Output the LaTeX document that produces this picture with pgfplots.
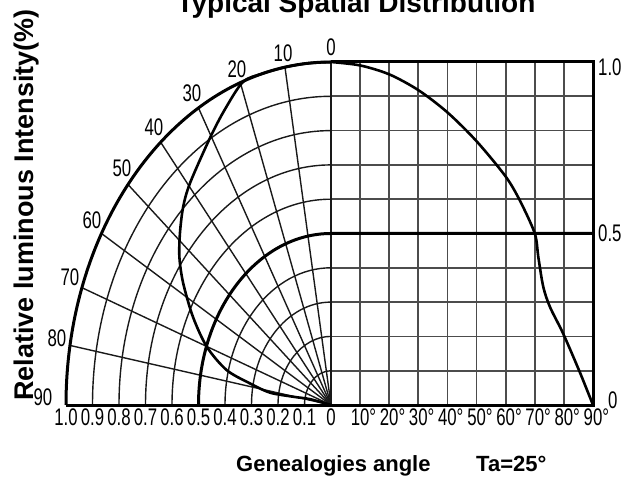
\documentclass[border=0pt]{standalone}
\usepackage{fontspec}
\setmainfont{Liberation Sans}
\newfontfamily\narrow[FakeStretch=0.7]{Liberation Sans}
\usepackage{pgfplots}
\pgfplotsset{compat=1.18}
\usepackage{pgfplotstable}

% relative intensity vs angle (right half)
\pgfplotstableread{
a r
0 1.000
10 0.990
20 0.964
30 0.918
40 0.853
50 0.769
60 0.666
65 0.594
70 0.500
71.2 0.432
72.9 0.345
75.2 0.286
79.7 0.209
85.4 0.097
90 0.000
}\rightcurve

% polar radiation pattern (left half), cartesian, radius units
\pgfplotstableread{
x y
0 1
-0.0872 0.9962
-0.1736 0.9848
-0.2588 0.9659
-0.332 0.942
-0.401 0.861
-0.457 0.778
-0.532 0.647
-0.558 0.577
-0.570 0.501
-0.572 0.43
-0.558 0.356
-0.521 0.257
-0.468 0.169
-0.394 0.102
-0.306 0.063
-0.230 0.036
-0.142 0.024
-0.079 0.017
0 0
}\polarcurve

\tikzset{
  pgrid/.style={black!90, line width=1.4pt},
  rgrid/.style={black!70, line width=1.7pt},
  heavy/.style={black, line width=3pt},
  lab/.style={font=\narrow\fontsize{24}{24}\selectfont, inner sep=0pt},
}

\begin{document}
\begin{tikzpicture}
\useasboundingbox (0,0) rectangle (632pt,480pt);
\begin{axis}[
  at={(66pt,75pt)}, anchor=south west,
  x=265pt, y=343pt,
  xmin=-1, xmax=0.9887, ymin=0, ymax=1,
  axis lines=none, clip=false,
]
% polar grid arcs
\pgfplotsinvokeforeach{0.1,0.2,0.3,0.4,0.6,0.7,0.8,0.9}{
  \draw[pgrid] (axis cs:0,#1) arc[start angle=90,end angle=180,x radius=#1*265pt,y radius=#1*343pt];
}
% radial lines
\draw[pgrid] (axis cs:0,0) -- (axis cs:-0.17365,0.98481);
\draw[pgrid] (axis cs:0,0) -- (axis cs:-0.34202,0.93969);
\draw[pgrid] (axis cs:0,0) -- (axis cs:-0.5,0.86603);
\draw[pgrid] (axis cs:0,0) -- (axis cs:-0.64279,0.76604);
\draw[pgrid] (axis cs:0,0) -- (axis cs:-0.76604,0.64279);
\draw[pgrid] (axis cs:0,0) -- (axis cs:-0.86603,0.5);
\draw[pgrid] (axis cs:0,0) -- (axis cs:-0.93969,0.34202);
\draw[pgrid] (axis cs:0,0) -- (axis cs:-0.98481,0.17365);
% right grid
\pgfplotsinvokeforeach{0.10986,0.21971,0.32957,0.43942,0.54928,0.65913,0.76899,0.87884}{
  \draw[rgrid] (axis cs:#1,0) -- (axis cs:#1,1);
}
\pgfplotsinvokeforeach{0.1,0.2,0.3,0.4,0.6,0.7,0.8,0.9}{
  \draw[rgrid] (axis cs:0,#1) -- (axis cs:0.9887,#1);
}
\draw[pgrid] (axis cs:0,0) -- (axis cs:0,1);
% heavy frame
\draw[heavy] (axis cs:0,1) arc[start angle=90,end angle=180,x radius=265pt,y radius=343pt];
\draw[heavy] (axis cs:-0.5,0) arc[start angle=180,end angle=90,x radius=132.5pt,y radius=171.5pt] -- (axis cs:0.9887,0.5);
\draw[heavy] (axis cs:-1,0) -- (axis cs:0.9887,0) -- (axis cs:0.9887,1) -- (axis cs:0,1);
% curves
\addplot[black, line width=2.6pt, smooth] table[x expr=\thisrow{a}*0.010986, y=r] {\rightcurve};
\addplot[black, line width=2.6pt, smooth] table[x=x, y=y] {\polarcurve};
\end{axis}

% angle labels
\node[lab] at (331pt,433pt) {0};
\node[lab] at (283pt,427pt) {10};
\node[lab] at (237pt,411pt) {20};
\node[lab] at (192pt,387pt) {30};
\node[lab] at (154pt,353pt) {40};
\node[lab] at (122pt,312pt) {50};
\node[lab] at (92pt,260pt) {60};
\node[lab] at (70pt,203pt) {70};
\node[lab] at (57pt,142pt) {80};
\node[lab] at (43pt,83pt) {90};
% bottom labels
\foreach \xx/\tt in {66/1.0, 92.5/0.9, 119/0.8, 145.5/0.7, 172/0.6, 198.5/0.5, 225/0.4, 251.5/0.3, 278/0.2, 304.5/0.1, 331/0}
  \node[lab] at (\xx pt,63pt) {\tt};
\foreach \xx/\tt in {360.1/10, 389.2/20, 418.3/30, 447.4/40, 476.6/50, 505.7/60, 534.8/70, 563.9/80, 593/90}
  \node[lab] at (\xx pt,63pt) {\tt\rlap{°}};
% right labels
\node[lab, anchor=west] at (598pt,413pt) {1.0};
\node[lab, anchor=west] at (598pt,247pt) {0.5};
\node[lab, anchor=west] at (608pt,80pt) {0};
% titles
\node[anchor=base, inner sep=0pt, font=\bfseries\fontsize{28}{28}\selectfont] at (356pt,467.3pt) {Typical Spatial Distribution};
\node[anchor=base, rotate=90, inner sep=0pt, font=\bfseries\fontsize{27}{27}\selectfont] at (33pt,275pt) {Relative luminous Intensity(\%)};
\node[anchor=base west, inner sep=0pt, font=\bfseries\fontsize{22}{22}\selectfont] at (236pt,9pt) {Genealogies angle};
\node[anchor=base west, inner sep=0pt, font=\bfseries\fontsize{22}{22}\selectfont] at (476pt,9pt) {Ta=25°};
\end{tikzpicture}
\end{document}
